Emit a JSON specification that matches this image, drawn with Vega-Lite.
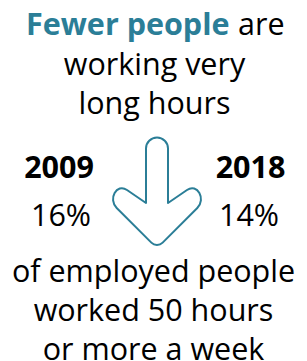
{
  "$schema": "https://vega.github.io/schema/vega-lite/v6.json",
  "width": 307,
  "height": 361,
  "padding": 0,
  "autosize": {"type": "none"},
  "background": "white",
  "config": {"view": {"stroke": null}, "text": {"font": "Open Sans"}},
  "datasets": {
    "headline": [
      {"line": "1", "text": "Fewer people", "part": "highlight"},
      {"line": "1", "text": "are", "part": "after"},
      {"line": "2", "text": "working very", "part": "line"},
      {"line": "3", "text": "long hours", "part": "line"}
    ],
    "shares": [
      {"year": "2009", "share": 0.16},
      {"year": "2018", "share": 0.14}
    ],
    "change": [
      {"from": "2009", "to": "2018", "direction": "down"}
    ],
    "caption": [
      {"line": "1", "text": "of employed people"},
      {"line": "2", "text": "worked 50 hours"},
      {"line": "3", "text": "or more a week"}
    ]
  },
  "resolve": {"scale": {"x": "independent", "y": "independent"}},
  "layer": [
    {
      "data": {"name": "headline"},
      "transform": [{"filter": "datum.part === 'highlight'"}],
      "mark": {"type": "text", "align": "right", "baseline": "alphabetic", "dx": 76, "fontSize": 30.5, "fontWeight": 700, "fill": "#2b7e97"},
      "encoding": {
        "text": {"field": "text"},
        "y": {"field": "line", "type": "ordinal", "axis": null, "scale": {"type": "point", "domain": ["1", "2", "3"], "range": [35, 114], "padding": 0}}
      }
    },
    {
      "data": {"name": "headline"},
      "transform": [{"filter": "datum.part === 'after'"}],
      "mark": {"type": "text", "align": "left", "baseline": "alphabetic", "dx": 84.5, "fontSize": 30.5, "fill": "#000000"},
      "encoding": {
        "text": {"field": "text"},
        "y": {"field": "line", "type": "ordinal", "axis": null, "scale": {"type": "point", "domain": ["1", "2", "3"], "range": [35, 114], "padding": 0}}
      }
    },
    {
      "data": {"name": "headline"},
      "transform": [{"filter": "datum.part === 'line'"}],
      "mark": {"type": "text", "align": "center", "baseline": "alphabetic", "dx": 1, "fontSize": 30.5, "fill": "#000000"},
      "encoding": {
        "text": {"field": "text"},
        "y": {"field": "line", "type": "ordinal", "axis": null, "scale": {"type": "point", "domain": ["1", "2", "3"], "range": [35, 114], "padding": 0}}
      }
    },
    {
      "data": {"name": "shares"},
      "mark": {"type": "text", "align": "center", "baseline": "alphabetic", "fontSize": 30.5, "fontWeight": 700, "fill": "#000000"},
      "encoding": {
        "text": {"field": "year"},
        "x": {"field": "year", "type": "nominal", "axis": null, "scale": {"type": "point", "domain": ["2009", "2018"], "range": [59, 250.5], "padding": 0}},
        "y": {"datum": "year", "type": "nominal", "axis": null, "scale": {"type": "point", "domain": ["year", "share"], "range": [178, 226], "padding": 0}}
      }
    },
    {
      "data": {"name": "shares"},
      "mark": {"type": "text", "align": "center", "baseline": "alphabetic", "fontSize": 30.5, "fill": "#000000"},
      "encoding": {
        "text": {"field": "share", "type": "quantitative", "format": ".0%"},
        "x": {"field": "year", "type": "nominal", "axis": null, "scale": {"type": "point", "domain": ["2009", "2018"], "range": [61, 249], "padding": 0}},
        "y": {"datum": "share", "type": "nominal", "axis": null, "scale": {"type": "point", "domain": ["year", "share"], "range": [178, 226], "padding": 0}}
      }
    },
    {
      "data": {"name": "change"},
      "mark": {
        "type": "point",
        "filled": false,
        "opacity": 1,
        "stroke": "#2b7e97",
        "strokeWidth": 2,
        "strokeJoin": "round",
        "size": 10000,
        "shape": "M-0.15,-0.64C-0.15,-0.7615,-0.0515,-0.86,0.07,-0.86C0.1915,-0.86,0.29,-0.7615,0.29,-0.64L0.29,0.45L0.67,0.19C0.878,0.048,1.054,0.372,0.876,0.55L0.1832,1.2432C0.1208,1.3056,0.0192,1.3056,-0.0432,1.2432L-0.736,0.55C-0.914,0.372,-0.738,0.048,-0.53,0.19L-0.15,0.45Z"
      },
      "encoding": {}
    },
    {
      "data": {"name": "caption"},
      "mark": {"type": "text", "align": "center", "baseline": "alphabetic", "fontSize": 30.5, "fill": "#000000"},
      "encoding": {
        "text": {"field": "text"},
        "y": {"field": "line", "type": "ordinal", "axis": null, "scale": {"type": "point", "domain": ["1", "2", "3"], "range": [282, 360], "padding": 0}}
      }
    }
  ]
}
